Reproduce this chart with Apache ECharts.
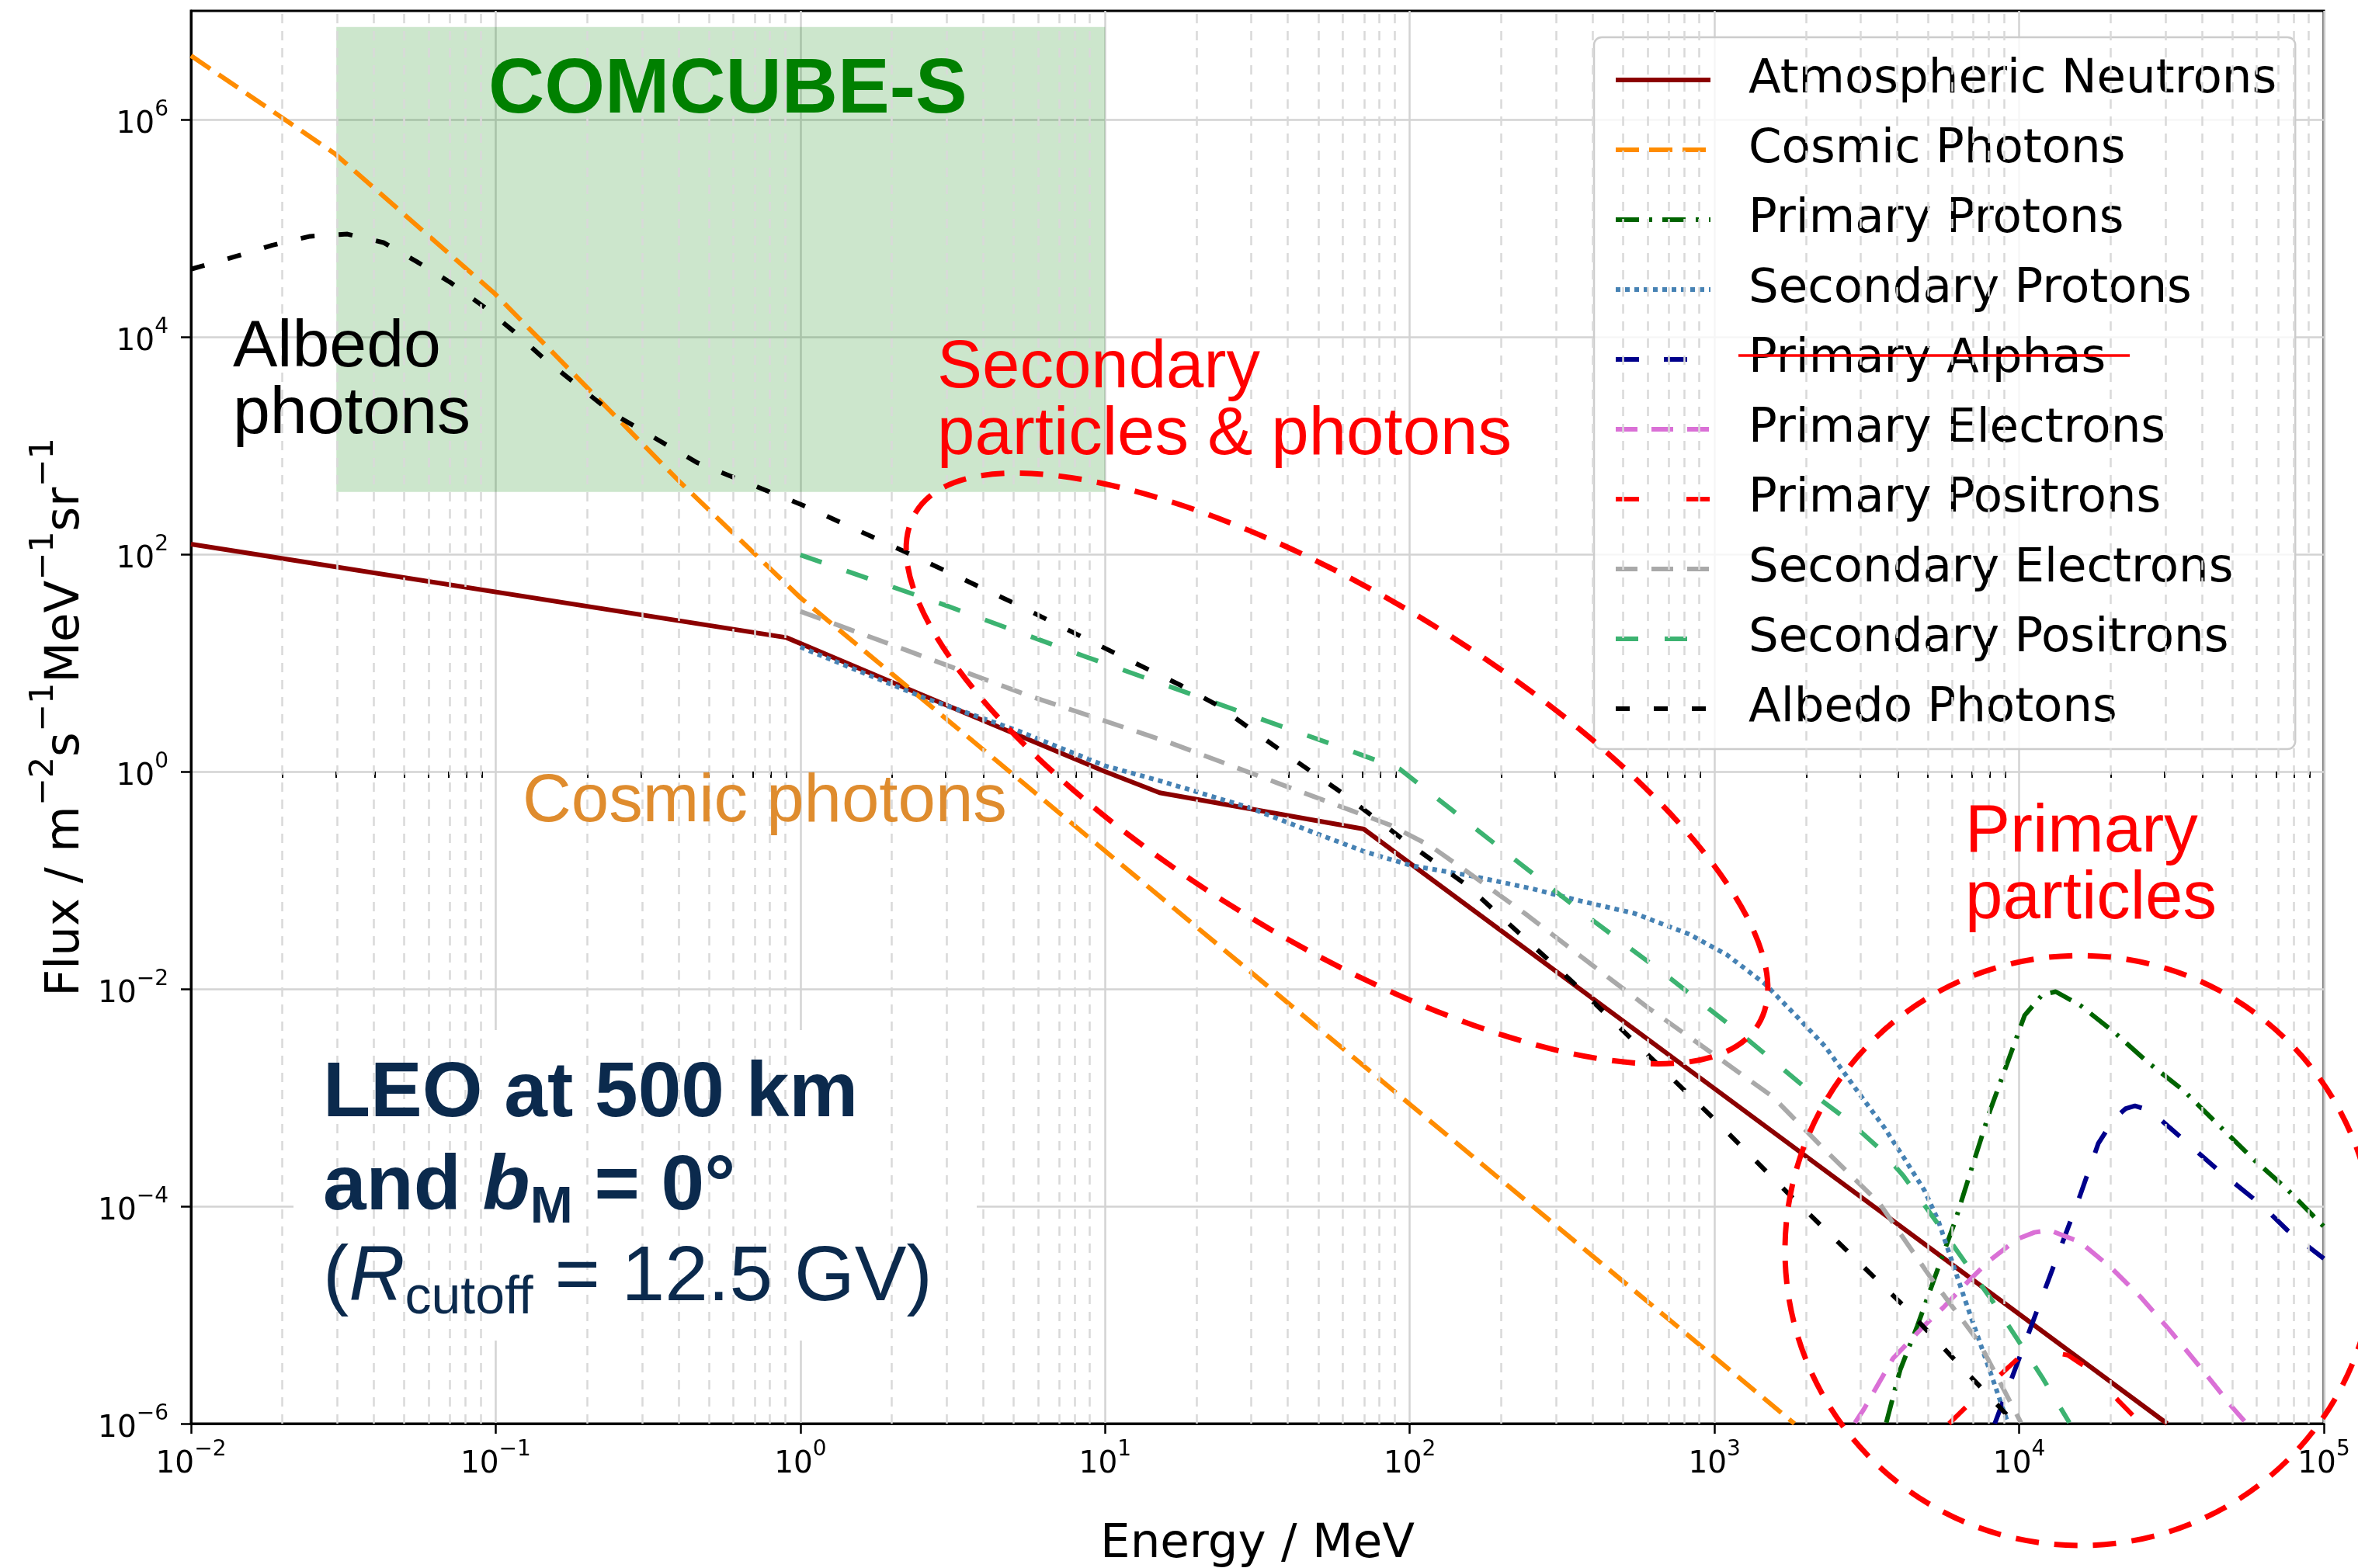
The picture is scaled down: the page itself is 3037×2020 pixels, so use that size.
<!DOCTYPE html>
<html>
<head>
<meta charset="utf-8">
<script src="https://cdn.jsdelivr.net/npm/echarts@6/dist/echarts.min.js"></script>
<style>
  html, body { margin: 0; padding: 0; background: #ffffff; }
  #chart { width: 3037px; height: 2020px; }
</style>
</head>
<body>
<div id="chart"></div>
<script>
// Differential flux spectra in LEO (500 km, b_M = 0°).
// Each point: [energy in MeV, flux in m^-2 s^-1 MeV^-1 sr^-1]
const atmosphericNeutrons = [[0.01,124],[0.9,17.1],[2.5,5.1],[10,1.0],[15.1,0.638],[70.6,0.296],[1000,1.21e-3],[30600,1.0e-6]];
const cosmicPhotons = [[0.01,3.87e6],[0.0296,4.87e5],[0.0995,2.49e4],[0.405,454],[1.0,39.8],[10,0.186],[100,8.7e-4],[1830,1.0e-6]];
const primaryProtons = [[3664,1.02e-6],[4064,3.09e-6],[4634,7.93e-6],[5420,2.70e-5],[6180,7.45e-5],[7031,2.37e-4],[8017,7.53e-4],[9141,2.07e-3],[10420,5.70e-3],[11885,8.79e-3],[13183,9.44e-3],[15849,7.08e-3],[20560,3.97e-3],[26670,2.07e-3],[34670,1.16e-3],[44980,5.64e-4],[58480,2.74e-4],[75860,1.43e-4],[100000,6.5e-5]];
const secondaryProtons = [[1,14.0],[2.53,4.81],[5.13,2.40],[10,1.13],[15.1,0.824],[29.6,0.468],[47.2,0.2825],[70.1,0.186],[101,0.1365],[160,0.1094],[251,0.0839],[363,0.0646],[547,0.0495],[826,0.0319],[1099,0.0206],[1466,0.0111],[1875,5.48e-3],[2307,2.96e-3],[2944,1.15e-3],[3597,5.37e-4],[4266,2.57e-4],[4887,1.40e-4],[5420,7.45e-5],[6683,1.31e-5],[8222,2.49e-6],[9141,1.05e-6]];
const primaryAlphas = [[8318,1.0e-6],[10000,3.98e-6],[12590,2.24e-5],[15850,1.26e-4],[18200,3.80e-4],[20420,6.31e-4],[22390,7.94e-4],[23990,8.39e-4],[26920,7.59e-4],[33110,4.57e-4],[44670,2.19e-4],[63100,1.0e-4],[75860,6.03e-5],[100000,3.3e-5]];
const primaryElectrons = [[2891,1.02e-6],[3090,1.35e-6],[3855,3.98e-6],[4875,7.94e-6],[5636,1.17e-5],[6761,2.0e-5],[7907,3.09e-5],[9886,5.01e-5],[11220,5.75e-5],[12590,6.03e-5],[15850,4.68e-5],[19950,2.75e-5],[25120,1.45e-5],[31620,6.92e-6],[39810,3.16e-6],[50120,1.41e-6],[55460,1.02e-6]];
const primaryPositrons = [[5888,1.0e-6],[7079,1.66e-6],[8913,3.02e-6],[10000,4.07e-6],[12020,4.68e-6],[14450,4.27e-6],[16980,3.16e-6],[21380,1.58e-6],[25120,1.0e-6]];
const secondaryElectrons = [[1,29.8],[2.21,13.2],[5.48,5.12],[16.1,1.87],[37.3,0.774],[64.0,0.44],[86.5,0.321],[117,0.2065],[158,0.1143],[244,0.0473],[378,0.0184],[605,6.73e-3],[971,2.62e-3],[1552,1.02e-3],[2228,3.63e-4],[2891,1.77e-4],[3475,1.07e-4],[5140,2.18e-5],[7413,5.52e-6],[10140,1.02e-6]];
const secondaryPositrons = [[1,98.6],[3.0,33.8],[8.49,11.6],[23.3,4.24],[64.0,1.55],[92.5,1.06],[138,0.44],[214,0.167],[391,0.0445],[693,0.01346],[1227,3.82e-3],[2104,1.08e-3],[2754,6.14e-4],[3475,3.40e-4],[4169,1.91e-4],[5715,5.57e-5],[8222,1.31e-5],[11885,2.68e-6],[14620,1.02e-6]];
const albedoPhotons = [[0.01,4.20e4],[0.0142,5.56e4],[0.0185,6.98e4],[0.0246,8.43e4],[0.0326,8.83e4],[0.0428,7.38e4],[0.0551,4.92e4],[0.0711,3.16e4],[0.0918,1.88e4],[0.1148,1.12e4],[0.1435,6.37e3],[0.243,1.96e3],[0.46,693],[1.02,282],[2.21,105],[4.97,36.0],[10.7,12.4],[17.8,6.18],[23.3,4.10],[37.3,1.60],[59.7,0.641],[95.7,0.234],[153,0.0912],[348,0.0111],[1014,6.07e-4],[1854,1.11e-4],[4169,1.22e-5],[9638,1.02e-6]];

// Axis ranges and ticks (powers of ten)
const xExpRange = [-2, 5];
const yExpRange = [-6, 7];
const xTickExponents = [-2, -1, 0, 1, 2, 3, 4, 5];
const yTickExponents = [-6, -4, -2, 0, 2, 4, 6];
const minorMultipliers = [2, 3, 4, 5, 6, 7, 8, 9];

// COMCUBE-S sensitivity band: energy (MeV) and flux limits
const comcubeBand = { eMin: 0.03, eMax: 10, fMin: 375, fMax: 7.1e6 };

const seriesDefs = [
  { name: 'Atmospheric Neutrons', data: atmosphericNeutrons, color: '#8b0000', dash: 'solid' },
  { name: 'Cosmic Photons',       data: cosmicPhotons,       color: '#ff8c00', dash: [30, 13] },
  { name: 'Primary Protons',      data: primaryProtons,      color: '#006400', dash: [30, 13, 4, 13] },
  { name: 'Secondary Protons',    data: secondaryProtons,    color: '#4682b4', dash: [6, 6] },
  { name: 'Primary Alphas',       data: primaryAlphas,       color: '#00008b', dash: [30, 32] },
  { name: 'Primary Electrons',    data: primaryElectrons,    color: '#da70d6', dash: [28, 18] },
  { name: 'Primary Positrons',    data: primaryPositrons,    color: '#ff0000', dash: [30, 61] },
  { name: 'Secondary Electrons',  data: secondaryElectrons,  color: '#a9a9a9', dash: [28, 18] },
  { name: 'Secondary Positrons',  data: secondaryPositrons,  color: '#3cb371', dash: [29, 34] },
  { name: 'Albedo Photons',       data: albedoPhotons,       color: '#000000', dash: [18, 31] }
];

const LG = Math.log10;
const FONT = 'DejaVu Sans';
const SANS = 'Liberation Sans';
const LINE_W = 6;

const minorPositions = [];
for (let k = xExpRange[0]; k < xExpRange[1]; k++) {
  minorMultipliers.forEach(m => minorPositions.push(LG(m) + k));
}

const expText = n => (n < 0 ? '\u2212' : '') + Math.abs(n);
const powLabel = v => '{b|10}{s|' + expText(Math.round(v)) + '}';
const tickRich = {
  b: { fontFamily: FONT, fontSize: 39, color: '#000', lineHeight: 52, verticalAlign: 'bottom' },
  s: { fontFamily: FONT, fontSize: 28, color: '#000', lineHeight: 30, verticalAlign: 'top' }
};

const dataSeries = seriesDefs.map(d => ({
  type: 'line',
  name: d.name,
  data: d.data.map(p => [LG(p[0]), LG(p[1])]),
  xAxisIndex: 0,
  yAxisIndex: 0,
  showSymbol: false,
  symbol: 'none',
  symbolSize: 0,
  silent: true,
  clip: true,
  z: 3,
  lineStyle: { color: d.color, width: LINE_W, type: d.dash, cap: 'butt', join: 'round' },
  itemStyle: { color: d.color },
  emphasis: { disabled: true }
}));

// Background helper: minor grid lines and the instrument band
const backdrop = {
  type: 'line',
  name: 'backdrop',
  data: [],
  xAxisIndex: 0,
  yAxisIndex: 0,
  silent: true,
  z: 1,
  markLine: {
    silent: true,
    symbol: ['none', 'none'],
    label: { show: false },
    lineStyle: { color: '#d9d9d9', width: 2.5, type: [12, 10] },
    emphasis: { disabled: true },
    data: minorPositions.map(v => ({ xAxis: v }))
  },
  markArea: {
    silent: true,
    itemStyle: { color: 'rgba(0,128,0,0.2)' },
    emphasis: { disabled: true },
    data: [[
      { coord: [LG(comcubeBand.eMin), LG(comcubeBand.fMin)] },
      { coord: [LG(comcubeBand.eMax), LG(comcubeBand.fMax)] }
    ]]
  }
};

const redAnno = { fill: '#ff0000', fontFamily: SANS, fontSize: 87, lineHeight: 86 };

const option = {
  animation: false,
  backgroundColor: '#ffffff',
  textStyle: { fontFamily: FONT },
  grid: {
    left: 246, right: 44, top: 14, bottom: 186,
    show: true, borderColor: '#000', borderWidth: 3,
    containLabel: false, outerBoundsMode: 'none'
  },
  xAxis: [
    {
      type: 'value', position: 'bottom',
      min: xExpRange[0], max: xExpRange[1], interval: 1,
      name: 'Energy / MeV', nameLocation: 'middle', nameGap: 126,
      nameTextStyle: { fontFamily: FONT, fontSize: 61, color: '#000' },
      axisLine: { show: true, onZero: false, lineStyle: { color: '#000', width: 3 } },
      axisTick: { show: true, length: 13, inside: false, lineStyle: { color: '#000', width: 2.5 } },
      axisLabel: { show: true, margin: 20, formatter: powLabel, rich: tickRich, customValues: xTickExponents },
      splitLine: { show: true, lineStyle: { color: '#d3d3d3', width: 2.5 } }
    },
    {
      type: 'value', position: 'bottom', offset: 0,
      min: xExpRange[0], max: xExpRange[1],
      axisLine: { show: false },
      axisLabel: { show: false },
      splitLine: { show: false },
      axisTick: { show: true, length: 8, customValues: minorPositions, lineStyle: { color: '#000', width: 2 } }
    }
  ],
  yAxis: {
    type: 'value',
    min: yExpRange[0], max: yExpRange[1], interval: 2,
    name: '{t|Flux / m}{s|\u22122}{t|s}{s|\u22121}{t|MeV}{s|\u22121}{t|sr}{s|\u22121}',
    nameLocation: 'middle', nameGap: 128,
    nameTextStyle: {
      rich: {
        t: { fontFamily: FONT, fontSize: 61, color: '#000', lineHeight: 80, verticalAlign: 'bottom' },
        s: { fontFamily: FONT, fontSize: 43, color: '#000', lineHeight: 45, verticalAlign: 'top' }
      }
    },
    axisLine: { show: true, onZero: false, lineStyle: { color: '#000', width: 3 } },
    axisTick: { show: true, length: 13, customValues: yTickExponents, lineStyle: { color: '#000', width: 2.5 } },
    axisLabel: { show: true, margin: 29, formatter: powLabel, rich: tickRich, customValues: yTickExponents },
    splitLine: { show: true, lineStyle: { color: '#d3d3d3', width: 2.5 } }
  },
  legend: {
    data: seriesDefs.map(d => d.name),
    orient: 'vertical',
    left: 2053, top: 48,
    padding: [10, 24, 7, 25],
    itemWidth: 122, itemHeight: 20, itemGap: 0,
    selectedMode: false,
    backgroundColor: 'rgba(255,255,255,0.8)',
    borderColor: '#cccccc', borderWidth: 2.5, borderRadius: 10,
    itemStyle: { opacity: 0, borderWidth: 0 },
    lineStyle: { width: LINE_W, opacity: 1 },
    textStyle: { fontFamily: FONT, fontSize: 61, color: '#000', lineHeight: 90, padding: [0, 0, 0, 44] }
  },
  series: [backdrop].concat(dataSeries),
  graphic: [
    // white panel behind the orbit description
    { type: 'rect', z: 2, silent: true, shape: { x: 378, y: 1327, width: 880, height: 400 }, style: { fill: '#ffffff' } },
    // region outlines
    { type: 'ellipse', z: 20, silent: true, x: 1722, y: 990, rotation: -0.546,
      shape: { cx: 0, cy: 0, rx: 635, ry: 222 },
      style: { fill: 'none', stroke: '#ff0000', lineWidth: 7, lineDash: [30, 20] } },
    { type: 'circle', z: 20, silent: true,
      shape: { cx: 2679, cy: 1611, r: 380 },
      style: { fill: 'none', stroke: '#ff0000', lineWidth: 7, lineDash: [30, 20] } },
    // strike-through on the alpha legend entry
    { type: 'line', z: 30, silent: true,
      shape: { x1: 2239, y1: 458, x2: 2743, y2: 458 },
      style: { stroke: '#ff0000', lineWidth: 3.5 } },
    // annotations
    { type: 'text', z: 25, silent: true, x: 629, y: 67,
      style: { text: 'COMCUBE-S', fill: '#008000', fontFamily: SANS, fontWeight: 'bold', fontSize: 100, verticalAlign: 'top' } },
    { type: 'text', z: 25, silent: true, x: 300, y: 405,
      style: { text: 'Albedo\nphotons', fill: '#000000', fontFamily: SANS, fontSize: 86, lineHeight: 86, verticalAlign: 'top' } },
    { type: 'text', z: 25, silent: true, x: 673, y: 991,
      style: { text: 'Cosmic photons', fill: '#df8c2e', fontFamily: SANS, fontSize: 87, lineHeight: 86, verticalAlign: 'top' } },
    { type: 'text', z: 25, silent: true, x: 1207, y: 432,
      style: Object.assign({ text: 'Secondary\nparticles & photons', verticalAlign: 'top' }, redAnno) },
    { type: 'text', z: 25, silent: true, x: 2531, y: 1030,
      style: Object.assign({ text: 'Primary\nparticles', verticalAlign: 'top' }, redAnno) },
    { type: 'text', z: 25, silent: true, x: 416, y: 1350,
      style: { text: 'LEO at 500 km', fill: '#0b2a4d', fontFamily: SANS, fontWeight: 'bold', fontSize: 100, lineHeight: 120, verticalAlign: 'top' } },
    { type: 'text', z: 25, silent: true, x: 416, y: 1470,
      style: {
        text: '{t|and }{bi|b}{sub|M}{t| = 0°}', verticalAlign: 'top',
        rich: {
          t:   { fill: '#0b2a4d', fontFamily: SANS, fontWeight: 'bold', fontSize: 100, lineHeight: 120, verticalAlign: 'middle' },
          bi:  { fill: '#0b2a4d', fontFamily: SANS, fontWeight: 'bold', fontStyle: 'italic', fontSize: 100, lineHeight: 120, verticalAlign: 'middle' },
          sub: { fill: '#0b2a4d', fontFamily: SANS, fontWeight: 'bold', fontSize: 66, lineHeight: 56, verticalAlign: 'bottom' }
        }
      } },
    { type: 'text', z: 25, silent: true, x: 416, y: 1587,
      style: {
        text: '{t|(}{ri|R}{sub|cutoff}{t| = 12.5 GV)}', verticalAlign: 'top',
        rich: {
          t:   { fill: '#0b2a4d', fontFamily: SANS, fontSize: 100, lineHeight: 120, verticalAlign: 'middle' },
          ri:  { fill: '#0b2a4d', fontFamily: SANS, fontStyle: 'italic', fontSize: 100, lineHeight: 120, verticalAlign: 'middle' },
          sub: { fill: '#0b2a4d', fontFamily: SANS, fontSize: 68, lineHeight: 56, verticalAlign: 'bottom' }
        }
      } }
  ]
};

const chart = echarts.init(document.getElementById('chart'), null, { renderer: 'canvas', width: 3037, height: 2020 });
chart.setOption(option);
</script>
</body>
</html>
